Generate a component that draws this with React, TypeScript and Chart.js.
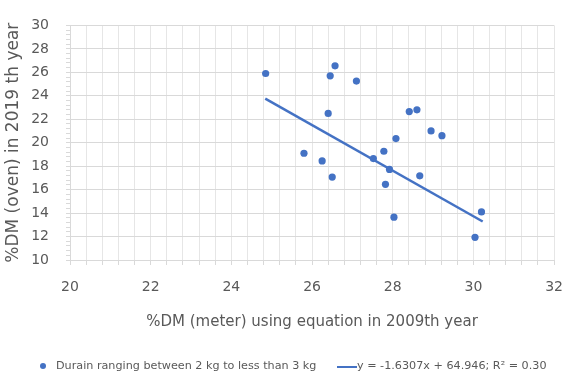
import React, { useEffect, useRef } from "react";
import { Chart, registerables } from "chart.js";

Chart.register(...registerables);

const xValues = [24.85, 26.57, 26.45, 27.1, 26.4, 28.41, 28.6, 28.95, 29.22, 28.08, 25.8, 26.25, 27.78, 27.52, 27.92, 28.67, 26.5, 27.82, 28.03, 30.2, 30.04];
const yValues = [25.9, 26.55, 25.7, 25.25, 22.5, 22.65, 22.8, 21.0, 20.6, 20.35, 19.1, 18.45, 19.27, 18.65, 17.72, 17.18, 17.07, 16.45, 13.65, 14.1, 11.93];
const trendX = [24.84, 30.23];
const trendY = [23.76, 13.28];

const xTitle = "%DM (meter) using equation in 2009th year";
const yTitle = "%DM (oven) in 2019 th year";
const seriesLabel = "Durain ranging between 2 kg to less than 3 kg";
const trendLabel = "y = -1.6307x + 64.946; R\u00B2 = 0.30";

const FONT = "'DejaVu Sans', sans-serif";
const BLUE = "#4472C4";
const TEXT = "#595959";

const isMajor = (v: number) => Math.abs(v / 2 - Math.round(v / 2)) < 1e-6;

export default function App() {
  const ref = useRef<HTMLCanvasElement | null>(null);
  useEffect(() => {
    document.body.style.margin = "0";
    const ctx = ref.current!;
    const chart = new Chart(ctx, {
      type: "scatter",
      data: {
        datasets: [
          {
            label: seriesLabel,
            data: xValues.map((x, i) => ({ x, y: yValues[i] })),
            backgroundColor: BLUE,
            borderWidth: 0,
            pointRadius: 3.6,
          },
          {
            label: trendLabel,
            data: trendX.map((x, i) => ({ x, y: trendY[i] })),
            showLine: true,
            borderColor: BLUE,
            borderWidth: 2.5,
            pointRadius: 0,
          },
        ],
      },
      options: {
        animation: false,
        responsive: false,
        layout: { padding: { top: 23, right: 10, bottom: 40, left: 0 } },
        plugins: { legend: { display: false }, tooltip: { enabled: false } },
        scales: {
          x: {
            type: "linear",
            min: 20,
            max: 32,
            afterFit: (s: any) => {
              s.height = 74;
            },
            ticks: {
              stepSize: 0.4,
              autoSkip: false,
              maxRotation: 0,
              padding: 14,
              color: TEXT,
              font: { family: FONT, size: 14 },
              callback: (v: any) => (isMajor(Number(v)) ? String(Math.round(Number(v))) : ""),
            },
            grid: {
              color: "#e6e6e6",
              tickColor: "#d9d9d9",
              tickLength: 5,
            },
            border: { color: "#d9d9d9" },
            title: {
              display: true,
              text: xTitle,
              color: TEXT,
              font: { family: FONT, size: 15 },
              padding: { top: 4, bottom: 3 },
            },
          },
          y: {
            type: "linear",
            min: 10,
            max: 30,
            afterFit: (s: any) => {
              s.width = 70;
            },
            ticks: {
              stepSize: 0.4,
              autoSkip: false,
              padding: 17,
              color: TEXT,
              font: { family: FONT, size: 14 },
              callback: (v: any) => (isMajor(Number(v)) ? String(Math.round(Number(v))) : ""),
            },
            grid: {
              color: (c: any) => (c.tick && isMajor(c.tick.value) ? "#d9d9d9" : "rgba(0,0,0,0)"),
              tickColor: "#d9d9d9",
              tickLength: 4,
            },
            border: { color: "#d9d9d9" },
            title: {
              display: true,
              text: yTitle,
              color: TEXT,
              font: { family: FONT, size: 17 },
              padding: { top: 3, bottom: 4 },
            },
          },
        },
      },
    });
    return () => chart.destroy();
  }, []);

  return (
    <div style={{ position: "relative", width: 577, height: 374 }}>
      <canvas ref={ref} width={577} height={374} style={{ display: "block" }} />
      <div
        style={{
          position: "absolute",
          left: 0,
          top: 358,
          width: 577,
          height: 16,
          fontFamily: FONT,
          fontSize: 11.2,
          color: TEXT,
          lineHeight: "16px",
          whiteSpace: "nowrap",
        }}
      >
        <span style={{ position: "absolute", left: 40, top: 5, width: 6, height: 6, borderRadius: 3, background: BLUE }} />
        <span style={{ position: "absolute", left: 56, top: 0 }}>{seriesLabel}</span>
        <span style={{ position: "absolute", left: 337, top: 8, width: 20, height: 2, background: BLUE }} />
        <span style={{ position: "absolute", left: 357, top: 0 }}>{trendLabel}</span>
      </div>
    </div>
  );
}
